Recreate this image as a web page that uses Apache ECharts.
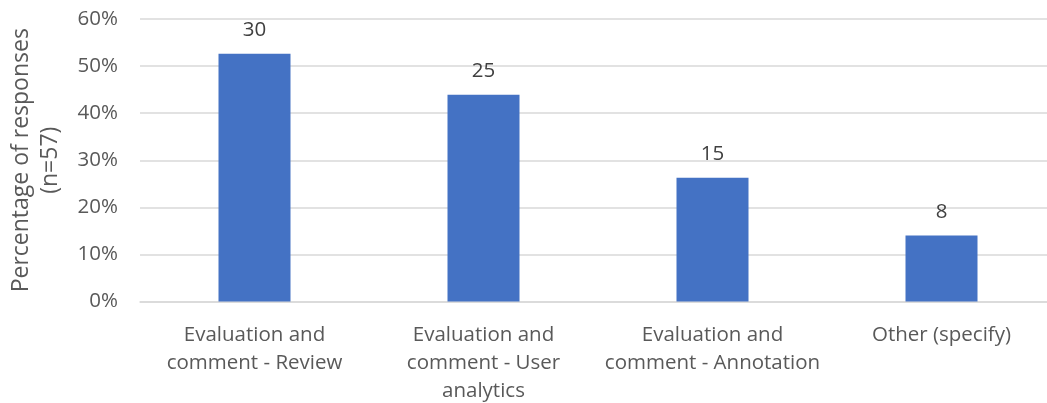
<!DOCTYPE html>
<html><head><meta charset="utf-8">
<script src="https://cdn.jsdelivr.net/npm/echarts@6/dist/echarts.min.js"></script>
<style>html,body{margin:0;padding:0;background:#fff}#c{width:1047px;height:403px}</style>
</head><body><div id="c"></div>
<script>
const categories = ["Evaluation and\ncomment - Review", "Evaluation and\ncomment - User\nanalytics", "Evaluation and\ncomment - Annotation", "Other (specify)"];
const counts = [30, 25, 15, 8];
const percentages = [52.6, 43.9, 26.3, 14.0];
const yTicks = [0, 10, 20, 30, 40, 50, 60];

const font = "'Open Sans', sans-serif";
const grey = "#595959";
const chart = echarts.init(document.getElementById('c'), null, {renderer: 'canvas'});
chart.setOption({
  animation: false,
  grid: {left: 140, top: 19, width: 916, height: 282.5, containLabel: false, outerBoundsMode: 'none'},
  xAxis: {
    type: 'category', data: categories,
    axisLine: {lineStyle: {color: '#d9d9d9', width: 1.5}},
    axisTick: {show: false},
    axisLabel: {color: grey, fontSize: 20.5, fontFamily: font, lineHeight: 28, margin: 20, interval: 0}
  },
  yAxis: {
    type: 'value', min: yTicks[0], max: yTicks[yTicks.length - 1], interval: 10,
    name: 'Percentage of responses\n(n=57)', nameLocation: 'middle', nameGap: 75,
    nameTextStyle: {color: grey, fontSize: 23, fontFamily: font, lineHeight: 29, align: 'center'},
    axisLine: {show: false}, axisTick: {show: false},
    splitLine: {lineStyle: {color: '#d9d9d9', width: 1.5}},
    axisLabel: {color: grey, fontSize: 20.5, fontFamily: font, margin: 22, formatter: v => v + '%'}
  },
  series: [{
    type: 'bar', barWidth: 72,
    data: percentages.map((p, i) => ({value: p, count: counts[i]})),
    itemStyle: {color: '#4472c4'},
    label: {show: true, position: 'top', distance: 13, color: '#404040', fontSize: 20.5, fontFamily: font,
      formatter: p => counts[p.dataIndex]}
  }]
});
</script></body></html>
